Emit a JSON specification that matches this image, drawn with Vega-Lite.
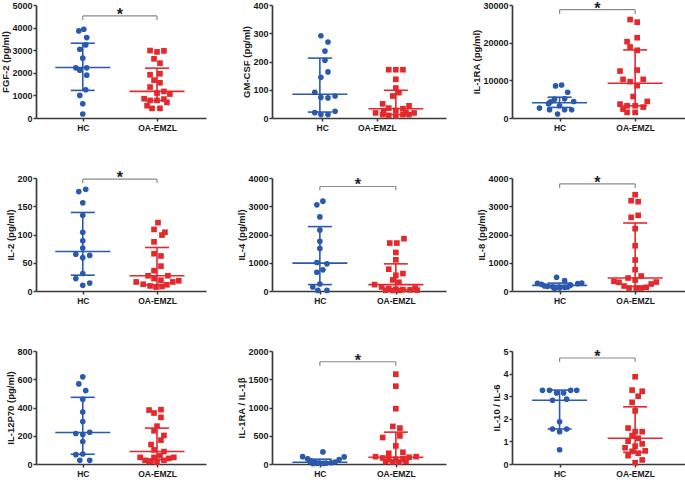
{
"$schema": "https://vega.github.io/schema/vega-lite/v6.json",
"padding": 0,
"autosize": {"type": "pad"},
"columns": 3,
"spacing": {"row": 60, "column": 66},
"bounds": "flush",
"align": "each",
"datasets": {
"pts": [
{"p":"fgf2","g":"HC","v":3853,"j":-4},{"p":"fgf2","g":"HC","v":3926,"j":1},{"p":"fgf2","g":"HC","v":3559,"j":4},{"p":"fgf2","g":"HC","v":3235,"j":3},{"p":"fgf2","g":"HC","v":3044,"j":-3},{"p":"fgf2","g":"HC","v":2647,"j":0},{"p":"fgf2","g":"HC","v":2221,"j":-7},{"p":"fgf2","g":"HC","v":2118,"j":-3},{"p":"fgf2","g":"HC","v":2221,"j":4},{"p":"fgf2","g":"HC","v":1897,"j":4},{"p":"fgf2","g":"HC","v":1250,"j":3},{"p":"fgf2","g":"HC","v":1000,"j":-3},{"p":"fgf2","g":"HC","v":632,"j":0},{"p":"fgf2","g":"HC","v":176,"j":0},
{"p":"fgf2","g":"OA-EMZL","v":2985,"j":-7},{"p":"fgf2","g":"OA-EMZL","v":2926,"j":0},{"p":"fgf2","g":"OA-EMZL","v":2970,"j":7},{"p":"fgf2","g":"OA-EMZL","v":2618,"j":-3},{"p":"fgf2","g":"OA-EMZL","v":2426,"j":3},{"p":"fgf2","g":"OA-EMZL","v":1912,"j":-7},{"p":"fgf2","g":"OA-EMZL","v":1956,"j":3},{"p":"fgf2","g":"OA-EMZL","v":1676,"j":-3},{"p":"fgf2","g":"OA-EMZL","v":1559,"j":3},{"p":"fgf2","g":"OA-EMZL","v":1368,"j":-7},{"p":"fgf2","g":"OA-EMZL","v":1103,"j":0},{"p":"fgf2","g":"OA-EMZL","v":1176,"j":7},{"p":"fgf2","g":"OA-EMZL","v":1059,"j":13},{"p":"fgf2","g":"OA-EMZL","v":853,"j":-13},{"p":"fgf2","g":"OA-EMZL","v":779,"j":-7},{"p":"fgf2","g":"OA-EMZL","v":779,"j":0},{"p":"fgf2","g":"OA-EMZL","v":838,"j":7},{"p":"fgf2","g":"OA-EMZL","v":691,"j":10},{"p":"fgf2","g":"OA-EMZL","v":544,"j":-10},{"p":"fgf2","g":"OA-EMZL","v":426,"j":-5},{"p":"fgf2","g":"OA-EMZL","v":426,"j":3},
{"p":"gmcsf","g":"HC","v":291,"j":1},{"p":"gmcsf","g":"HC","v":269,"j":8},{"p":"gmcsf","g":"HC","v":237,"j":5},{"p":"gmcsf","g":"HC","v":204,"j":5},{"p":"gmcsf","g":"HC","v":163,"j":8},{"p":"gmcsf","g":"HC","v":144,"j":1},{"p":"gmcsf","g":"HC","v":91,"j":-5},{"p":"gmcsf","g":"HC","v":73,"j":1},{"p":"gmcsf","g":"HC","v":71,"j":8},{"p":"gmcsf","g":"HC","v":78,"j":15},{"p":"gmcsf","g":"HC","v":19,"j":-5},{"p":"gmcsf","g":"HC","v":12,"j":1},{"p":"gmcsf","g":"HC","v":12,"j":8},{"p":"gmcsf","g":"HC","v":24,"j":15},
{"p":"gmcsf","g":"OA-EMZL","v":171,"j":-7},{"p":"gmcsf","g":"OA-EMZL","v":171,"j":0},{"p":"gmcsf","g":"OA-EMZL","v":171,"j":7},{"p":"gmcsf","g":"OA-EMZL","v":137,"j":0},{"p":"gmcsf","g":"OA-EMZL","v":106,"j":0},{"p":"gmcsf","g":"OA-EMZL","v":90,"j":3},{"p":"gmcsf","g":"OA-EMZL","v":78,"j":-3},{"p":"gmcsf","g":"OA-EMZL","v":50,"j":-13},{"p":"gmcsf","g":"OA-EMZL","v":43,"j":13},{"p":"gmcsf","g":"OA-EMZL","v":35,"j":-7},{"p":"gmcsf","g":"OA-EMZL","v":33,"j":7},{"p":"gmcsf","g":"OA-EMZL","v":27,"j":0},{"p":"gmcsf","g":"OA-EMZL","v":18,"j":-20},{"p":"gmcsf","g":"OA-EMZL","v":12,"j":-13},{"p":"gmcsf","g":"OA-EMZL","v":9,"j":-7},{"p":"gmcsf","g":"OA-EMZL","v":7,"j":0},{"p":"gmcsf","g":"OA-EMZL","v":12,"j":7},{"p":"gmcsf","g":"OA-EMZL","v":12,"j":13},{"p":"gmcsf","g":"OA-EMZL","v":18,"j":18},{"p":"gmcsf","g":"OA-EMZL","v":25,"j":-12},{"p":"gmcsf","g":"OA-EMZL","v":20,"j":10},
{"p":"il1ra","g":"HC","v":8509,"j":-4},{"p":"il1ra","g":"HC","v":8772,"j":2},{"p":"il1ra","g":"HC","v":6842,"j":8},{"p":"il1ra","g":"HC","v":5000,"j":-5},{"p":"il1ra","g":"HC","v":5088,"j":5},{"p":"il1ra","g":"HC","v":4386,"j":14},{"p":"il1ra","g":"HC","v":4300,"j":-9},{"p":"il1ra","g":"HC","v":3800,"j":-11},{"p":"il1ra","g":"HC","v":3246,"j":0},{"p":"il1ra","g":"HC","v":2632,"j":-20},{"p":"il1ra","g":"HC","v":2193,"j":-10},{"p":"il1ra","g":"HC","v":2193,"j":5},{"p":"il1ra","g":"HC","v":2193,"j":12},{"p":"il1ra","g":"HC","v":1053,"j":-2},
{"p":"il1ra","g":"OA-EMZL","v":26140,"j":-5},{"p":"il1ra","g":"OA-EMZL","v":25440,"j":2},{"p":"il1ra","g":"OA-EMZL","v":21320,"j":2},{"p":"il1ra","g":"OA-EMZL","v":20260,"j":-8},{"p":"il1ra","g":"OA-EMZL","v":18860,"j":-5},{"p":"il1ra","g":"OA-EMZL","v":17980,"j":2},{"p":"il1ra","g":"OA-EMZL","v":12720,"j":2},{"p":"il1ra","g":"OA-EMZL","v":12460,"j":-15},{"p":"il1ra","g":"OA-EMZL","v":10260,"j":-12},{"p":"il1ra","g":"OA-EMZL","v":10260,"j":8},{"p":"il1ra","g":"OA-EMZL","v":9650,"j":-5},{"p":"il1ra","g":"OA-EMZL","v":8600,"j":2},{"p":"il1ra","g":"OA-EMZL","v":5700,"j":-2},{"p":"il1ra","g":"OA-EMZL","v":4390,"j":12},{"p":"il1ra","g":"OA-EMZL","v":3680,"j":-15},{"p":"il1ra","g":"OA-EMZL","v":3250,"j":-8},{"p":"il1ra","g":"OA-EMZL","v":3250,"j":0},{"p":"il1ra","g":"OA-EMZL","v":2900,"j":8},{"p":"il1ra","g":"OA-EMZL","v":2370,"j":-12},{"p":"il1ra","g":"OA-EMZL","v":1490,"j":-8},{"p":"il1ra","g":"OA-EMZL","v":1490,"j":0},
{"p":"il2","g":"HC","v":176,"j":-4},{"p":"il2","g":"HC","v":180,"j":3},{"p":"il2","g":"HC","v":156,"j":0},{"p":"il2","g":"HC","v":134,"j":0},{"p":"il2","g":"HC","v":104,"j":0},{"p":"il2","g":"HC","v":89,"j":0},{"p":"il2","g":"HC","v":76,"j":0},{"p":"il2","g":"HC","v":65,"j":-7},{"p":"il2","g":"HC","v":63,"j":7},{"p":"il2","g":"HC","v":59,"j":0},{"p":"il2","g":"HC","v":31,"j":0},{"p":"il2","g":"HC","v":22,"j":-7},{"p":"il2","g":"HC","v":14,"j":7},{"p":"il2","g":"HC","v":10,"j":0},
{"p":"il2","g":"OA-EMZL","v":121,"j":1},{"p":"il2","g":"OA-EMZL","v":109,"j":-3},{"p":"il2","g":"OA-EMZL","v":99,"j":5},{"p":"il2","g":"OA-EMZL","v":104,"j":8},{"p":"il2","g":"OA-EMZL","v":87,"j":-3},{"p":"il2","g":"OA-EMZL","v":66,"j":-3},{"p":"il2","g":"OA-EMZL","v":62,"j":4},{"p":"il2","g":"OA-EMZL","v":44,"j":4},{"p":"il2","g":"OA-EMZL","v":36,"j":-3},{"p":"il2","g":"OA-EMZL","v":27,"j":-9},{"p":"il2","g":"OA-EMZL","v":27,"j":11},{"p":"il2","g":"OA-EMZL","v":22,"j":-3},{"p":"il2","g":"OA-EMZL","v":19,"j":4},{"p":"il2","g":"OA-EMZL","v":16,"j":-21},{"p":"il2","g":"OA-EMZL","v":12,"j":-14},{"p":"il2","g":"OA-EMZL","v":9,"j":-7},{"p":"il2","g":"OA-EMZL","v":7,"j":-1},{"p":"il2","g":"OA-EMZL","v":8,"j":5},{"p":"il2","g":"OA-EMZL","v":11,"j":10},{"p":"il2","g":"OA-EMZL","v":16,"j":16},{"p":"il2","g":"OA-EMZL","v":18,"j":22},
{"p":"il4","g":"HC","v":3050,"j":-3},{"p":"il4","g":"HC","v":3181,"j":3},{"p":"il4","g":"HC","v":2623,"j":0},{"p":"il4","g":"HC","v":2160,"j":0},{"p":"il4","g":"HC","v":1757,"j":0},{"p":"il4","g":"HC","v":1507,"j":0},{"p":"il4","g":"HC","v":1009,"j":-3},{"p":"il4","g":"HC","v":961,"j":7},{"p":"il4","g":"HC","v":748,"j":3},{"p":"il4","g":"HC","v":665,"j":-3},{"p":"il4","g":"HC","v":249,"j":0},{"p":"il4","g":"HC","v":142,"j":-7},{"p":"il4","g":"HC","v":20,"j":-2},{"p":"il4","g":"HC","v":20,"j":7},
{"p":"il4","g":"OA-EMZL","v":1852,"j":8},{"p":"il4","g":"OA-EMZL","v":1697,"j":-6},{"p":"il4","g":"OA-EMZL","v":1697,"j":1},{"p":"il4","g":"OA-EMZL","v":1365,"j":0},{"p":"il4","g":"OA-EMZL","v":1104,"j":0},{"p":"il4","g":"OA-EMZL","v":772,"j":-7},{"p":"il4","g":"OA-EMZL","v":617,"j":7},{"p":"il4","g":"OA-EMZL","v":558,"j":0},{"p":"il4","g":"OA-EMZL","v":392,"j":-3},{"p":"il4","g":"OA-EMZL","v":309,"j":3},{"p":"il4","g":"OA-EMZL","v":226,"j":-21},{"p":"il4","g":"OA-EMZL","v":142,"j":-14},{"p":"il4","g":"OA-EMZL","v":107,"j":19},{"p":"il4","g":"OA-EMZL","v":80,"j":-7},{"p":"il4","g":"OA-EMZL","v":60,"j":0},{"p":"il4","g":"OA-EMZL","v":50,"j":7},{"p":"il4","g":"OA-EMZL","v":40,"j":14},{"p":"il4","g":"OA-EMZL","v":30,"j":-10},{"p":"il4","g":"OA-EMZL","v":30,"j":21},{"p":"il4","g":"OA-EMZL","v":20,"j":-3},{"p":"il4","g":"OA-EMZL","v":20,"j":4},
{"p":"il8","g":"HC","v":484,"j":-3},{"p":"il8","g":"HC","v":366,"j":5},{"p":"il8","g":"HC","v":271,"j":-22},{"p":"il8","g":"HC","v":236,"j":-18},{"p":"il8","g":"HC","v":283,"j":22},{"p":"il8","g":"HC","v":260,"j":18},{"p":"il8","g":"HC","v":212,"j":11},{"p":"il8","g":"HC","v":165,"j":-12},{"p":"il8","g":"HC","v":150,"j":-7},{"p":"il8","g":"HC","v":130,"j":5},{"p":"il8","g":"HC","v":106,"j":0},{"p":"il8","g":"HC","v":90,"j":-5},{"p":"il8","g":"HC","v":140,"j":8},{"p":"il8","g":"HC","v":180,"j":-15},
{"p":"il8","g":"OA-EMZL","v":3410,"j":0},{"p":"il8","g":"OA-EMZL","v":3197,"j":-4},{"p":"il8","g":"OA-EMZL","v":3162,"j":3},{"p":"il8","g":"OA-EMZL","v":2607,"j":-4},{"p":"il8","g":"OA-EMZL","v":2678,"j":3},{"p":"il8","g":"OA-EMZL","v":2206,"j":0},{"p":"il8","g":"OA-EMZL","v":1604,"j":0},{"p":"il8","g":"OA-EMZL","v":1097,"j":0},{"p":"il8","g":"OA-EMZL","v":755,"j":0},{"p":"il8","g":"OA-EMZL","v":460,"j":-7},{"p":"il8","g":"OA-EMZL","v":531,"j":6},{"p":"il8","g":"OA-EMZL","v":389,"j":0},{"p":"il8","g":"OA-EMZL","v":342,"j":-21},{"p":"il8","g":"OA-EMZL","v":307,"j":-16},{"p":"il8","g":"OA-EMZL","v":318,"j":21},{"p":"il8","g":"OA-EMZL","v":248,"j":16},{"p":"il8","g":"OA-EMZL","v":177,"j":-11},{"p":"il8","g":"OA-EMZL","v":106,"j":-6},{"p":"il8","g":"OA-EMZL","v":106,"j":1},{"p":"il8","g":"OA-EMZL","v":106,"j":6},{"p":"il8","g":"OA-EMZL","v":130,"j":11},
{"p":"il12","g":"HC","v":617,"j":0},{"p":"il12","g":"HC","v":567,"j":-4},{"p":"il12","g":"HC","v":520,"j":3},{"p":"il12","g":"HC","v":458,"j":0},{"p":"il12","g":"HC","v":368,"j":0},{"p":"il12","g":"HC","v":301,"j":0},{"p":"il12","g":"HC","v":216,"j":-7},{"p":"il12","g":"HC","v":209,"j":0},{"p":"il12","g":"HC","v":225,"j":7},{"p":"il12","g":"HC","v":159,"j":0},{"p":"il12","g":"HC","v":66,"j":-7},{"p":"il12","g":"HC","v":71,"j":0},{"p":"il12","g":"HC","v":26,"j":-3},{"p":"il12","g":"HC","v":26,"j":7},
{"p":"il12","g":"OA-EMZL","v":382,"j":-8},{"p":"il12","g":"OA-EMZL","v":385,"j":4},{"p":"il12","g":"OA-EMZL","v":361,"j":-3},{"p":"il12","g":"OA-EMZL","v":330,"j":4},{"p":"il12","g":"OA-EMZL","v":268,"j":0},{"p":"il12","g":"OA-EMZL","v":235,"j":-3},{"p":"il12","g":"OA-EMZL","v":202,"j":7},{"p":"il12","g":"OA-EMZL","v":169,"j":4},{"p":"il12","g":"OA-EMZL","v":138,"j":-6},{"p":"il12","g":"OA-EMZL","v":100,"j":-3},{"p":"il12","g":"OA-EMZL","v":88,"j":7},{"p":"il12","g":"OA-EMZL","v":59,"j":3},{"p":"il12","g":"OA-EMZL","v":47,"j":-3},{"p":"il12","g":"OA-EMZL","v":47,"j":-17},{"p":"il12","g":"OA-EMZL","v":40,"j":12},{"p":"il12","g":"OA-EMZL","v":47,"j":17},{"p":"il12","g":"OA-EMZL","v":26,"j":-12},{"p":"il12","g":"OA-EMZL","v":21,"j":-6},{"p":"il12","g":"OA-EMZL","v":14,"j":0},{"p":"il12","g":"OA-EMZL","v":26,"j":7},{"p":"il12","g":"OA-EMZL","v":18,"j":-8},
{"p":"r1","g":"HC","v":214,"j":3},{"p":"r1","g":"HC","v":130,"j":-17},{"p":"r1","g":"HC","v":125,"j":24},{"p":"r1","g":"HC","v":90,"j":-12},{"p":"r1","g":"HC","v":80,"j":19},{"p":"r1","g":"HC","v":55,"j":-9},{"p":"r1","g":"HC","v":35,"j":15},{"p":"r1","g":"HC","v":28,"j":-5},{"p":"r1","g":"HC","v":22,"j":11},{"p":"r1","g":"HC","v":18,"j":-1},{"p":"r1","g":"HC","v":15,"j":6},{"p":"r1","g":"HC","v":12,"j":-3},{"p":"r1","g":"HC","v":10,"j":3},{"p":"r1","g":"HC","v":8,"j":-7},
{"p":"r1","g":"OA-EMZL","v":1590,"j":0},{"p":"r1","g":"OA-EMZL","v":1377,"j":0},{"p":"r1","g":"OA-EMZL","v":979,"j":0},{"p":"r1","g":"OA-EMZL","v":665,"j":-3},{"p":"r1","g":"OA-EMZL","v":635,"j":4},{"p":"r1","g":"OA-EMZL","v":498,"j":4},{"p":"r1","g":"OA-EMZL","v":469,"j":-13},{"p":"r1","g":"OA-EMZL","v":320,"j":0},{"p":"r1","g":"OA-EMZL","v":208,"j":7},{"p":"r1","g":"OA-EMZL","v":190,"j":-7},{"p":"r1","g":"OA-EMZL","v":130,"j":-20},{"p":"r1","g":"OA-EMZL","v":130,"j":20},{"p":"r1","g":"OA-EMZL","v":119,"j":13},{"p":"r1","g":"OA-EMZL","v":107,"j":-13},{"p":"r1","g":"OA-EMZL","v":95,"j":-7},{"p":"r1","g":"OA-EMZL","v":95,"j":7},{"p":"r1","g":"OA-EMZL","v":83,"j":0},{"p":"r1","g":"OA-EMZL","v":47,"j":-10},{"p":"r1","g":"OA-EMZL","v":47,"j":10},{"p":"r1","g":"OA-EMZL","v":36,"j":-3},{"p":"r1","g":"OA-EMZL","v":36,"j":3},
{"p":"r2","g":"HC","v":3.26,"j":-17},{"p":"r2","g":"HC","v":3.26,"j":-10},{"p":"r2","g":"HC","v":3.26,"j":11},{"p":"r2","g":"HC","v":3.26,"j":17},{"p":"r2","g":"HC","v":3.14,"j":-3},{"p":"r2","g":"HC","v":3.14,"j":4},{"p":"r2","g":"HC","v":2.82,"j":-7},{"p":"r2","g":"HC","v":2.87,"j":7},{"p":"r2","g":"HC","v":1.87,"j":0},{"p":"r2","g":"HC","v":1.55,"j":-7},{"p":"r2","g":"HC","v":1.55,"j":7},{"p":"r2","g":"HC","v":1.43,"j":0},{"p":"r2","g":"HC","v":0.63,"j":0},
{"p":"r2","g":"OA-EMZL","v":3.86,"j":0},{"p":"r2","g":"OA-EMZL","v":3.27,"j":-3},{"p":"r2","g":"OA-EMZL","v":3.22,"j":7},{"p":"r2","g":"OA-EMZL","v":3.0,"j":3},{"p":"r2","g":"OA-EMZL","v":2.73,"j":-3},{"p":"r2","g":"OA-EMZL","v":2.35,"j":0},{"p":"r2","g":"OA-EMZL","v":1.59,"j":-7},{"p":"r2","g":"OA-EMZL","v":1.43,"j":0},{"p":"r2","g":"OA-EMZL","v":1.43,"j":7},{"p":"r2","g":"OA-EMZL","v":1.26,"j":-3},{"p":"r2","g":"OA-EMZL","v":1.14,"j":3},{"p":"r2","g":"OA-EMZL","v":1.01,"j":-7},{"p":"r2","g":"OA-EMZL","v":0.89,"j":7},{"p":"r2","g":"OA-EMZL","v":0.72,"j":-10},{"p":"r2","g":"OA-EMZL","v":0.79,"j":0},{"p":"r2","g":"OA-EMZL","v":0.56,"j":-3},{"p":"r2","g":"OA-EMZL","v":0.58,"j":10},{"p":"r2","g":"OA-EMZL","v":0.37,"j":-7},{"p":"r2","g":"OA-EMZL","v":0.48,"j":3},{"p":"r2","g":"OA-EMZL","v":0.06,"j":0},{"p":"r2","g":"OA-EMZL","v":0.18,"j":7}
],
"sum": [
{"p":"fgf2","g":"HC","m":2235,"q1":1221,"q3":3309},{"p":"fgf2","g":"OA-EMZL","m":1176,"q1":770,"q3":2206},
{"p":"gmcsf","g":"HC","m":84,"q1":21,"q3":212},{"p":"gmcsf","g":"OA-EMZL","m":33,"q1":12,"q3":98},
{"p":"il1ra","g":"HC","m":4035,"q1":2807,"q3":5526},{"p":"il1ra","g":"OA-EMZL","m":9210,"q1":3250,"q3":18070},
{"p":"il2","g":"HC","m":70,"q1":28,"q3":139},{"p":"il2","g":"OA-EMZL","m":27,"q1":11,"q3":77},
{"p":"il4","g":"HC","m":985,"q1":226,"q3":2279},{"p":"il4","g":"OA-EMZL","m":226,"q1":45,"q3":961},
{"p":"il8","g":"HC","m":200,"q1":130,"q3":280},{"p":"il8","g":"OA-EMZL","m":460,"q1":160,"q3":2407},
{"p":"il12","g":"HC","m":223,"q1":69,"q3":472},{"p":"il12","g":"OA-EMZL","m":88,"q1":30,"q3":254},
{"p":"r1","g":"HC","m":31,"q1":14,"q3":85},{"p":"r1","g":"OA-EMZL","m":119,"q1":40,"q3":564},
{"p":"r2","g":"HC","m":2.82,"q1":1.55,"q3":3.27},{"p":"r2","g":"OA-EMZL","m":1.14,"q1":0.52,"q3":2.53}
],
"br": [
{"p":"fgf2","g":"HC","t":4515,"b":4340},{"p":"fgf2","g":"OA-EMZL","t":4515,"b":4340},
{"p":"il1ra","g":"HC","t":28770,"b":27630},{"p":"il1ra","g":"OA-EMZL","t":28770,"b":27630},
{"p":"il2","g":"HC","t":198,"b":191},{"p":"il2","g":"OA-EMZL","t":198,"b":191},
{"p":"il4","g":"HC","t":3700,"b":3570},{"p":"il4","g":"OA-EMZL","t":3700,"b":3570},
{"p":"il8","g":"HC","t":3790,"b":3650},{"p":"il8","g":"OA-EMZL","t":3790,"b":3650},
{"p":"r1","g":"HC","t":1810,"b":1740},{"p":"r1","g":"OA-EMZL","t":1810,"b":1740},
{"p":"r2","g":"HC","t":4.69,"b":4.52},{"p":"r2","g":"OA-EMZL","t":4.69,"b":4.52}
]
},
"concat": [
{"width":170,"height":113,"layer":[
{"data":{"name":"pts"},"transform":[{"filter":"datum.p==='fgf2'"},{"calculate":"(datum.g==='HC'?1:2)+datum.j/75","as":"x"}],"mark":{"type":"point","filled":true,"opacity":1,"size":32},"encoding":{"x":{"field":"x","type":"quantitative","scale":{"domain":[0.37,2.66],"nice":false,"zero":false},"axis":{"values":[1,2],"labelExpr":"datum.value<1.5?'HC':'OA-EMZL'","title":null}},"y":{"field":"v","type":"quantitative","scale":{"domain":[0,5000],"nice":false},"axis":{"values":[0,1000,2000,3000,4000,5000],"tickCount":6,"labelOverlap":false,"format":"d","title":"FGF-2 (pg/ml)"}},"color":{"field":"g","type":"nominal","scale":{"domain":["HC","OA-EMZL"],"range":["#2a59ae","#e5282b"]}},"shape":{"field":"g","type":"nominal","scale":{"domain":["HC","OA-EMZL"],"range":["circle","square"]}}}},
{"data":{"name":"sum"},"transform":[{"filter":"datum.p==='fgf2'"},{"calculate":"datum.g==='HC'?1:2","as":"x"}],"layer":[
{"mark":{"type":"rule","strokeWidth":1.6},"encoding":{"x":{"field":"x","type":"quantitative"},"y":{"field":"q1","type":"quantitative"},"y2":{"field":"q3"},"color":{"field":"g","type":"nominal"}}},
{"mark":{"type":"tick","orient":"horizontal","size":55,"thickness":1.6,"opacity":1},"encoding":{"x":{"field":"x","type":"quantitative"},"y":{"field":"m","type":"quantitative"},"color":{"field":"g","type":"nominal"}}},
{"mark":{"type":"tick","orient":"horizontal","size":24,"thickness":1.6,"opacity":1},"encoding":{"x":{"field":"x","type":"quantitative"},"y":{"field":"q1","type":"quantitative"},"color":{"field":"g","type":"nominal"}}},
{"mark":{"type":"tick","orient":"horizontal","size":24,"thickness":1.6,"opacity":1},"encoding":{"x":{"field":"x","type":"quantitative"},"y":{"field":"q3","type":"quantitative"},"color":{"field":"g","type":"nominal"}}}]},
{"data":{"name":"br"},"transform":[{"filter":"datum.p==='fgf2'"},{"calculate":"datum.g==='HC'?1:2","as":"x"}],"layer":[
{"mark":{"type":"line","color":"#8a8a8a","strokeWidth":1.2},"encoding":{"x":{"field":"x","type":"quantitative"},"y":{"field":"t","type":"quantitative"}}},
{"mark":{"type":"rule","color":"#8a8a8a","strokeWidth":1.2},"encoding":{"x":{"field":"x","type":"quantitative"},"y":{"field":"b","type":"quantitative"},"y2":{"field":"t"}}},
{"transform":[{"filter":"datum.g==='HC'"}],"mark":{"type":"text","text":"*","fontSize":16,"fontWeight":"bold","font":"Liberation Sans","baseline":"alphabetic","dy":4,"color":"#222222"},"encoding":{"x":{"datum":1.5,"type":"quantitative"},"y":{"field":"t","type":"quantitative"}}}]}
]},
{"width":174,"height":113,"layer":[
{"data":{"name":"pts"},"transform":[{"filter":"datum.p==='gmcsf'"},{"calculate":"(datum.g==='HC'?1:2)+datum.j/75","as":"x"}],"mark":{"type":"point","filled":true,"opacity":1,"size":32},"encoding":{"x":{"field":"x","type":"quantitative","scale":{"domain":[0.37,2.66],"nice":false,"zero":false},"axis":{"values":[1.03,1.75],"labelExpr":"datum.value<1.5?'HC':'OA-EMZL'","title":null}},"y":{"field":"v","type":"quantitative","scale":{"domain":[0,400],"nice":false},"axis":{"values":[0,100,200,300,400],"tickCount":5,"labelOverlap":false,"format":"d","title":"GM-CSF (pg/ml)"}},"color":{"field":"g","type":"nominal","scale":{"domain":["HC","OA-EMZL"],"range":["#2a59ae","#e5282b"]}},"shape":{"field":"g","type":"nominal","scale":{"domain":["HC","OA-EMZL"],"range":["circle","square"]}}}},
{"data":{"name":"sum"},"transform":[{"filter":"datum.p==='gmcsf'"},{"calculate":"datum.g==='HC'?1:2","as":"x"}],"layer":[
{"mark":{"type":"rule","strokeWidth":1.6},"encoding":{"x":{"field":"x","type":"quantitative"},"y":{"field":"q1","type":"quantitative"},"y2":{"field":"q3"},"color":{"field":"g","type":"nominal"}}},
{"mark":{"type":"tick","orient":"horizontal","size":55,"thickness":1.6,"opacity":1},"encoding":{"x":{"field":"x","type":"quantitative"},"y":{"field":"m","type":"quantitative"},"color":{"field":"g","type":"nominal"}}},
{"mark":{"type":"tick","orient":"horizontal","size":24,"thickness":1.6,"opacity":1},"encoding":{"x":{"field":"x","type":"quantitative"},"y":{"field":"q1","type":"quantitative"},"color":{"field":"g","type":"nominal"}}},
{"mark":{"type":"tick","orient":"horizontal","size":24,"thickness":1.6,"opacity":1},"encoding":{"x":{"field":"x","type":"quantitative"},"y":{"field":"q3","type":"quantitative"},"color":{"field":"g","type":"nominal"}}}]}
]},
{"width":173,"height":113,"layer":[
{"data":{"name":"pts"},"transform":[{"filter":"datum.p==='il1ra'"},{"calculate":"(datum.g==='HC'?1:2)+datum.j/75","as":"x"}],"mark":{"type":"point","filled":true,"opacity":1,"size":32},"encoding":{"x":{"field":"x","type":"quantitative","scale":{"domain":[0.37,2.66],"nice":false,"zero":false},"axis":{"values":[1,2],"labelExpr":"datum.value<1.5?'HC':'OA-EMZL'","title":null}},"y":{"field":"v","type":"quantitative","scale":{"domain":[0,30000],"nice":false},"axis":{"values":[0,10000,20000,30000],"tickCount":4,"labelOverlap":false,"format":"d","title":"IL-1RA (pg/ml)"}},"color":{"field":"g","type":"nominal","scale":{"domain":["HC","OA-EMZL"],"range":["#2a59ae","#e5282b"]}},"shape":{"field":"g","type":"nominal","scale":{"domain":["HC","OA-EMZL"],"range":["circle","square"]}}}},
{"data":{"name":"sum"},"transform":[{"filter":"datum.p==='il1ra'"},{"calculate":"datum.g==='HC'?1:2","as":"x"}],"layer":[
{"mark":{"type":"rule","strokeWidth":1.6},"encoding":{"x":{"field":"x","type":"quantitative"},"y":{"field":"q1","type":"quantitative"},"y2":{"field":"q3"},"color":{"field":"g","type":"nominal"}}},
{"mark":{"type":"tick","orient":"horizontal","size":55,"thickness":1.6,"opacity":1},"encoding":{"x":{"field":"x","type":"quantitative"},"y":{"field":"m","type":"quantitative"},"color":{"field":"g","type":"nominal"}}},
{"mark":{"type":"tick","orient":"horizontal","size":24,"thickness":1.6,"opacity":1},"encoding":{"x":{"field":"x","type":"quantitative"},"y":{"field":"q1","type":"quantitative"},"color":{"field":"g","type":"nominal"}}},
{"mark":{"type":"tick","orient":"horizontal","size":24,"thickness":1.6,"opacity":1},"encoding":{"x":{"field":"x","type":"quantitative"},"y":{"field":"q3","type":"quantitative"},"color":{"field":"g","type":"nominal"}}}]},
{"data":{"name":"br"},"transform":[{"filter":"datum.p==='il1ra'"},{"calculate":"datum.g==='HC'?1:2","as":"x"}],"layer":[
{"mark":{"type":"line","color":"#8a8a8a","strokeWidth":1.2},"encoding":{"x":{"field":"x","type":"quantitative"},"y":{"field":"t","type":"quantitative"}}},
{"mark":{"type":"rule","color":"#8a8a8a","strokeWidth":1.2},"encoding":{"x":{"field":"x","type":"quantitative"},"y":{"field":"b","type":"quantitative"},"y2":{"field":"t"}}},
{"transform":[{"filter":"datum.g==='HC'"}],"mark":{"type":"text","text":"*","fontSize":16,"fontWeight":"bold","font":"Liberation Sans","baseline":"alphabetic","dy":4,"color":"#222222"},"encoding":{"x":{"datum":1.5,"type":"quantitative"},"y":{"field":"t","type":"quantitative"}}}]}
]},
{"width":170,"height":113,"layer":[
{"data":{"name":"pts"},"transform":[{"filter":"datum.p==='il2'"},{"calculate":"(datum.g==='HC'?1:2)+datum.j/75","as":"x"}],"mark":{"type":"point","filled":true,"opacity":1,"size":32},"encoding":{"x":{"field":"x","type":"quantitative","scale":{"domain":[0.37,2.66],"nice":false,"zero":false},"axis":{"values":[1,2],"labelExpr":"datum.value<1.5?'HC':'OA-EMZL'","title":null}},"y":{"field":"v","type":"quantitative","scale":{"domain":[0,200],"nice":false},"axis":{"values":[0,50,100,150,200],"tickCount":5,"labelOverlap":false,"format":"d","title":"IL-2 (pg/ml)"}},"color":{"field":"g","type":"nominal","scale":{"domain":["HC","OA-EMZL"],"range":["#2a59ae","#e5282b"]}},"shape":{"field":"g","type":"nominal","scale":{"domain":["HC","OA-EMZL"],"range":["circle","square"]}}}},
{"data":{"name":"sum"},"transform":[{"filter":"datum.p==='il2'"},{"calculate":"datum.g==='HC'?1:2","as":"x"}],"layer":[
{"mark":{"type":"rule","strokeWidth":1.6},"encoding":{"x":{"field":"x","type":"quantitative"},"y":{"field":"q1","type":"quantitative"},"y2":{"field":"q3"},"color":{"field":"g","type":"nominal"}}},
{"mark":{"type":"tick","orient":"horizontal","size":55,"thickness":1.6,"opacity":1},"encoding":{"x":{"field":"x","type":"quantitative"},"y":{"field":"m","type":"quantitative"},"color":{"field":"g","type":"nominal"}}},
{"mark":{"type":"tick","orient":"horizontal","size":24,"thickness":1.6,"opacity":1},"encoding":{"x":{"field":"x","type":"quantitative"},"y":{"field":"q1","type":"quantitative"},"color":{"field":"g","type":"nominal"}}},
{"mark":{"type":"tick","orient":"horizontal","size":24,"thickness":1.6,"opacity":1},"encoding":{"x":{"field":"x","type":"quantitative"},"y":{"field":"q3","type":"quantitative"},"color":{"field":"g","type":"nominal"}}}]},
{"data":{"name":"br"},"transform":[{"filter":"datum.p==='il2'"},{"calculate":"datum.g==='HC'?1:2","as":"x"}],"layer":[
{"mark":{"type":"line","color":"#8a8a8a","strokeWidth":1.2},"encoding":{"x":{"field":"x","type":"quantitative"},"y":{"field":"t","type":"quantitative"}}},
{"mark":{"type":"rule","color":"#8a8a8a","strokeWidth":1.2},"encoding":{"x":{"field":"x","type":"quantitative"},"y":{"field":"b","type":"quantitative"},"y2":{"field":"t"}}},
{"transform":[{"filter":"datum.g==='HC'"}],"mark":{"type":"text","text":"*","fontSize":16,"fontWeight":"bold","font":"Liberation Sans","baseline":"alphabetic","dy":4,"color":"#222222"},"encoding":{"x":{"datum":1.5,"type":"quantitative"},"y":{"field":"t","type":"quantitative"}}}]}
]},
{"width":174,"height":113,"layer":[
{"data":{"name":"pts"},"transform":[{"filter":"datum.p==='il4'"},{"calculate":"(datum.g==='HC'?1:2)+datum.j/75","as":"x"}],"mark":{"type":"point","filled":true,"opacity":1,"size":32},"encoding":{"x":{"field":"x","type":"quantitative","scale":{"domain":[0.37,2.66],"nice":false,"zero":false},"axis":{"values":[1,2],"labelExpr":"datum.value<1.5?'HC':'OA-EMZL'","title":null}},"y":{"field":"v","type":"quantitative","scale":{"domain":[0,4000],"nice":false},"axis":{"values":[0,1000,2000,3000,4000],"tickCount":5,"labelOverlap":false,"format":"d","title":"IL-4 (pg/ml)"}},"color":{"field":"g","type":"nominal","scale":{"domain":["HC","OA-EMZL"],"range":["#2a59ae","#e5282b"]}},"shape":{"field":"g","type":"nominal","scale":{"domain":["HC","OA-EMZL"],"range":["circle","square"]}}}},
{"data":{"name":"sum"},"transform":[{"filter":"datum.p==='il4'"},{"calculate":"datum.g==='HC'?1:2","as":"x"}],"layer":[
{"mark":{"type":"rule","strokeWidth":1.6},"encoding":{"x":{"field":"x","type":"quantitative"},"y":{"field":"q1","type":"quantitative"},"y2":{"field":"q3"},"color":{"field":"g","type":"nominal"}}},
{"mark":{"type":"tick","orient":"horizontal","size":55,"thickness":1.6,"opacity":1},"encoding":{"x":{"field":"x","type":"quantitative"},"y":{"field":"m","type":"quantitative"},"color":{"field":"g","type":"nominal"}}},
{"mark":{"type":"tick","orient":"horizontal","size":24,"thickness":1.6,"opacity":1},"encoding":{"x":{"field":"x","type":"quantitative"},"y":{"field":"q1","type":"quantitative"},"color":{"field":"g","type":"nominal"}}},
{"mark":{"type":"tick","orient":"horizontal","size":24,"thickness":1.6,"opacity":1},"encoding":{"x":{"field":"x","type":"quantitative"},"y":{"field":"q3","type":"quantitative"},"color":{"field":"g","type":"nominal"}}}]},
{"data":{"name":"br"},"transform":[{"filter":"datum.p==='il4'"},{"calculate":"datum.g==='HC'?1:2","as":"x"}],"layer":[
{"mark":{"type":"line","color":"#8a8a8a","strokeWidth":1.2},"encoding":{"x":{"field":"x","type":"quantitative"},"y":{"field":"t","type":"quantitative"}}},
{"mark":{"type":"rule","color":"#8a8a8a","strokeWidth":1.2},"encoding":{"x":{"field":"x","type":"quantitative"},"y":{"field":"b","type":"quantitative"},"y2":{"field":"t"}}},
{"transform":[{"filter":"datum.g==='HC'"}],"mark":{"type":"text","text":"*","fontSize":16,"fontWeight":"bold","font":"Liberation Sans","baseline":"alphabetic","dy":4,"color":"#222222"},"encoding":{"x":{"datum":1.5,"type":"quantitative"},"y":{"field":"t","type":"quantitative"}}}]}
]},
{"width":173,"height":113,"layer":[
{"data":{"name":"pts"},"transform":[{"filter":"datum.p==='il8'"},{"calculate":"(datum.g==='HC'?1:2)+datum.j/75","as":"x"}],"mark":{"type":"point","filled":true,"opacity":1,"size":32},"encoding":{"x":{"field":"x","type":"quantitative","scale":{"domain":[0.37,2.66],"nice":false,"zero":false},"axis":{"values":[1,2],"labelExpr":"datum.value<1.5?'HC':'OA-EMZL'","title":null}},"y":{"field":"v","type":"quantitative","scale":{"domain":[0,4000],"nice":false},"axis":{"values":[0,1000,2000,3000,4000],"tickCount":5,"labelOverlap":false,"format":"d","title":"IL-8 (pg/ml)"}},"color":{"field":"g","type":"nominal","scale":{"domain":["HC","OA-EMZL"],"range":["#2a59ae","#e5282b"]}},"shape":{"field":"g","type":"nominal","scale":{"domain":["HC","OA-EMZL"],"range":["circle","square"]}}}},
{"data":{"name":"sum"},"transform":[{"filter":"datum.p==='il8'"},{"calculate":"datum.g==='HC'?1:2","as":"x"}],"layer":[
{"mark":{"type":"rule","strokeWidth":1.6},"encoding":{"x":{"field":"x","type":"quantitative"},"y":{"field":"q1","type":"quantitative"},"y2":{"field":"q3"},"color":{"field":"g","type":"nominal"}}},
{"mark":{"type":"tick","orient":"horizontal","size":55,"thickness":1.6,"opacity":1},"encoding":{"x":{"field":"x","type":"quantitative"},"y":{"field":"m","type":"quantitative"},"color":{"field":"g","type":"nominal"}}},
{"mark":{"type":"tick","orient":"horizontal","size":24,"thickness":1.6,"opacity":1},"encoding":{"x":{"field":"x","type":"quantitative"},"y":{"field":"q1","type":"quantitative"},"color":{"field":"g","type":"nominal"}}},
{"mark":{"type":"tick","orient":"horizontal","size":24,"thickness":1.6,"opacity":1},"encoding":{"x":{"field":"x","type":"quantitative"},"y":{"field":"q3","type":"quantitative"},"color":{"field":"g","type":"nominal"}}}]},
{"data":{"name":"br"},"transform":[{"filter":"datum.p==='il8'"},{"calculate":"datum.g==='HC'?1:2","as":"x"}],"layer":[
{"mark":{"type":"line","color":"#8a8a8a","strokeWidth":1.2},"encoding":{"x":{"field":"x","type":"quantitative"},"y":{"field":"t","type":"quantitative"}}},
{"mark":{"type":"rule","color":"#8a8a8a","strokeWidth":1.2},"encoding":{"x":{"field":"x","type":"quantitative"},"y":{"field":"b","type":"quantitative"},"y2":{"field":"t"}}},
{"transform":[{"filter":"datum.g==='HC'"}],"mark":{"type":"text","text":"*","fontSize":16,"fontWeight":"bold","font":"Liberation Sans","baseline":"alphabetic","dy":4,"color":"#222222"},"encoding":{"x":{"datum":1.5,"type":"quantitative"},"y":{"field":"t","type":"quantitative"}}}]}
]},
{"width":170,"height":113,"layer":[
{"data":{"name":"pts"},"transform":[{"filter":"datum.p==='il12'"},{"calculate":"(datum.g==='HC'?1:2)+datum.j/75","as":"x"}],"mark":{"type":"point","filled":true,"opacity":1,"size":32},"encoding":{"x":{"field":"x","type":"quantitative","scale":{"domain":[0.37,2.66],"nice":false,"zero":false},"axis":{"values":[1,2],"labelExpr":"datum.value<1.5?'HC':'OA-EMZL'","title":null}},"y":{"field":"v","type":"quantitative","scale":{"domain":[0,800],"nice":false},"axis":{"values":[0,200,400,600,800],"tickCount":5,"labelOverlap":false,"format":"d","title":"IL-12P70 (pg/ml)"}},"color":{"field":"g","type":"nominal","scale":{"domain":["HC","OA-EMZL"],"range":["#2a59ae","#e5282b"]}},"shape":{"field":"g","type":"nominal","scale":{"domain":["HC","OA-EMZL"],"range":["circle","square"]}}}},
{"data":{"name":"sum"},"transform":[{"filter":"datum.p==='il12'"},{"calculate":"datum.g==='HC'?1:2","as":"x"}],"layer":[
{"mark":{"type":"rule","strokeWidth":1.6},"encoding":{"x":{"field":"x","type":"quantitative"},"y":{"field":"q1","type":"quantitative"},"y2":{"field":"q3"},"color":{"field":"g","type":"nominal"}}},
{"mark":{"type":"tick","orient":"horizontal","size":55,"thickness":1.6,"opacity":1},"encoding":{"x":{"field":"x","type":"quantitative"},"y":{"field":"m","type":"quantitative"},"color":{"field":"g","type":"nominal"}}},
{"mark":{"type":"tick","orient":"horizontal","size":24,"thickness":1.6,"opacity":1},"encoding":{"x":{"field":"x","type":"quantitative"},"y":{"field":"q1","type":"quantitative"},"color":{"field":"g","type":"nominal"}}},
{"mark":{"type":"tick","orient":"horizontal","size":24,"thickness":1.6,"opacity":1},"encoding":{"x":{"field":"x","type":"quantitative"},"y":{"field":"q3","type":"quantitative"},"color":{"field":"g","type":"nominal"}}}]}
]},
{"width":174,"height":113,"layer":[
{"data":{"name":"pts"},"transform":[{"filter":"datum.p==='r1'"},{"calculate":"(datum.g==='HC'?1:2)+datum.j/75","as":"x"}],"mark":{"type":"point","filled":true,"opacity":1,"size":32},"encoding":{"x":{"field":"x","type":"quantitative","scale":{"domain":[0.37,2.66],"nice":false,"zero":false},"axis":{"values":[1,2],"labelExpr":"datum.value<1.5?'HC':'OA-EMZL'","title":null}},"y":{"field":"v","type":"quantitative","scale":{"domain":[0,2000],"nice":false},"axis":{"values":[0,500,1000,1500,2000],"tickCount":5,"labelOverlap":false,"format":"d","title":"IL-1RA / IL-1β"}},"color":{"field":"g","type":"nominal","scale":{"domain":["HC","OA-EMZL"],"range":["#2a59ae","#e5282b"]}},"shape":{"field":"g","type":"nominal","scale":{"domain":["HC","OA-EMZL"],"range":["circle","square"]}}}},
{"data":{"name":"sum"},"transform":[{"filter":"datum.p==='r1'"},{"calculate":"datum.g==='HC'?1:2","as":"x"}],"layer":[
{"mark":{"type":"rule","strokeWidth":1.6},"encoding":{"x":{"field":"x","type":"quantitative"},"y":{"field":"q1","type":"quantitative"},"y2":{"field":"q3"},"color":{"field":"g","type":"nominal"}}},
{"mark":{"type":"tick","orient":"horizontal","size":55,"thickness":1.6,"opacity":1},"encoding":{"x":{"field":"x","type":"quantitative"},"y":{"field":"m","type":"quantitative"},"color":{"field":"g","type":"nominal"}}},
{"mark":{"type":"tick","orient":"horizontal","size":24,"thickness":1.6,"opacity":1},"encoding":{"x":{"field":"x","type":"quantitative"},"y":{"field":"q1","type":"quantitative"},"color":{"field":"g","type":"nominal"}}},
{"mark":{"type":"tick","orient":"horizontal","size":24,"thickness":1.6,"opacity":1},"encoding":{"x":{"field":"x","type":"quantitative"},"y":{"field":"q3","type":"quantitative"},"color":{"field":"g","type":"nominal"}}}]},
{"data":{"name":"br"},"transform":[{"filter":"datum.p==='r1'"},{"calculate":"datum.g==='HC'?1:2","as":"x"}],"layer":[
{"mark":{"type":"line","color":"#8a8a8a","strokeWidth":1.2},"encoding":{"x":{"field":"x","type":"quantitative"},"y":{"field":"t","type":"quantitative"}}},
{"mark":{"type":"rule","color":"#8a8a8a","strokeWidth":1.2},"encoding":{"x":{"field":"x","type":"quantitative"},"y":{"field":"b","type":"quantitative"},"y2":{"field":"t"}}},
{"transform":[{"filter":"datum.g==='HC'"}],"mark":{"type":"text","text":"*","fontSize":16,"fontWeight":"bold","font":"Liberation Sans","baseline":"alphabetic","dy":4,"color":"#222222"},"encoding":{"x":{"datum":1.5,"type":"quantitative"},"y":{"field":"t","type":"quantitative"}}}]}
]},
{"width":173,"height":113,"layer":[
{"data":{"name":"pts"},"transform":[{"filter":"datum.p==='r2'"},{"calculate":"(datum.g==='HC'?1:2)+datum.j/75","as":"x"}],"mark":{"type":"point","filled":true,"opacity":1,"size":32},"encoding":{"x":{"field":"x","type":"quantitative","scale":{"domain":[0.37,2.66],"nice":false,"zero":false},"axis":{"values":[1,2],"labelExpr":"datum.value<1.5?'HC':'OA-EMZL'","title":null}},"y":{"field":"v","type":"quantitative","scale":{"domain":[0,5],"nice":false},"axis":{"values":[0,1,2,3,4,5],"tickCount":6,"labelOverlap":false,"format":"d","title":"IL-10 / IL-6"}},"color":{"field":"g","type":"nominal","scale":{"domain":["HC","OA-EMZL"],"range":["#2a59ae","#e5282b"]}},"shape":{"field":"g","type":"nominal","scale":{"domain":["HC","OA-EMZL"],"range":["circle","square"]}}}},
{"data":{"name":"sum"},"transform":[{"filter":"datum.p==='r2'"},{"calculate":"datum.g==='HC'?1:2","as":"x"}],"layer":[
{"mark":{"type":"rule","strokeWidth":1.6},"encoding":{"x":{"field":"x","type":"quantitative"},"y":{"field":"q1","type":"quantitative"},"y2":{"field":"q3"},"color":{"field":"g","type":"nominal"}}},
{"mark":{"type":"tick","orient":"horizontal","size":55,"thickness":1.6,"opacity":1},"encoding":{"x":{"field":"x","type":"quantitative"},"y":{"field":"m","type":"quantitative"},"color":{"field":"g","type":"nominal"}}},
{"mark":{"type":"tick","orient":"horizontal","size":24,"thickness":1.6,"opacity":1},"encoding":{"x":{"field":"x","type":"quantitative"},"y":{"field":"q1","type":"quantitative"},"color":{"field":"g","type":"nominal"}}},
{"mark":{"type":"tick","orient":"horizontal","size":24,"thickness":1.6,"opacity":1},"encoding":{"x":{"field":"x","type":"quantitative"},"y":{"field":"q3","type":"quantitative"},"color":{"field":"g","type":"nominal"}}}]},
{"data":{"name":"br"},"transform":[{"filter":"datum.p==='r2'"},{"calculate":"datum.g==='HC'?1:2","as":"x"}],"layer":[
{"mark":{"type":"line","color":"#8a8a8a","strokeWidth":1.2},"encoding":{"x":{"field":"x","type":"quantitative"},"y":{"field":"t","type":"quantitative"}}},
{"mark":{"type":"rule","color":"#8a8a8a","strokeWidth":1.2},"encoding":{"x":{"field":"x","type":"quantitative"},"y":{"field":"b","type":"quantitative"},"y2":{"field":"t"}}},
{"transform":[{"filter":"datum.g==='HC'"}],"mark":{"type":"text","text":"*","fontSize":16,"fontWeight":"bold","font":"Liberation Sans","baseline":"alphabetic","dy":4,"color":"#222222"},"encoding":{"x":{"datum":1.5,"type":"quantitative"},"y":{"field":"t","type":"quantitative"}}}]}
]}
],
"config": {
"view": {"stroke": null},
"legend": {"disable": true},
"axis": {"grid": false, "labelOverlap": false, "labelBound": false, "domainColor": "#3a3a3a", "domainWidth": 1.7, "tickColor": "#3a3a3a", "tickWidth": 1.5, "labelFont": "Liberation Sans", "labelFontWeight": "bold", "labelColor": "#1a1a1a", "titleFont": "Liberation Sans", "titleFontWeight": "bold", "titleColor": "#1a1a1a", "titleFontSize": 9.5},
"axisY": {"labelFontSize": 9, "tickSize": 3, "labelPadding": 1, "titlePadding": 1},
"axisX": {"labelFontSize": 8.5, "tickSize": 3, "labelPadding": 2}
}
}
